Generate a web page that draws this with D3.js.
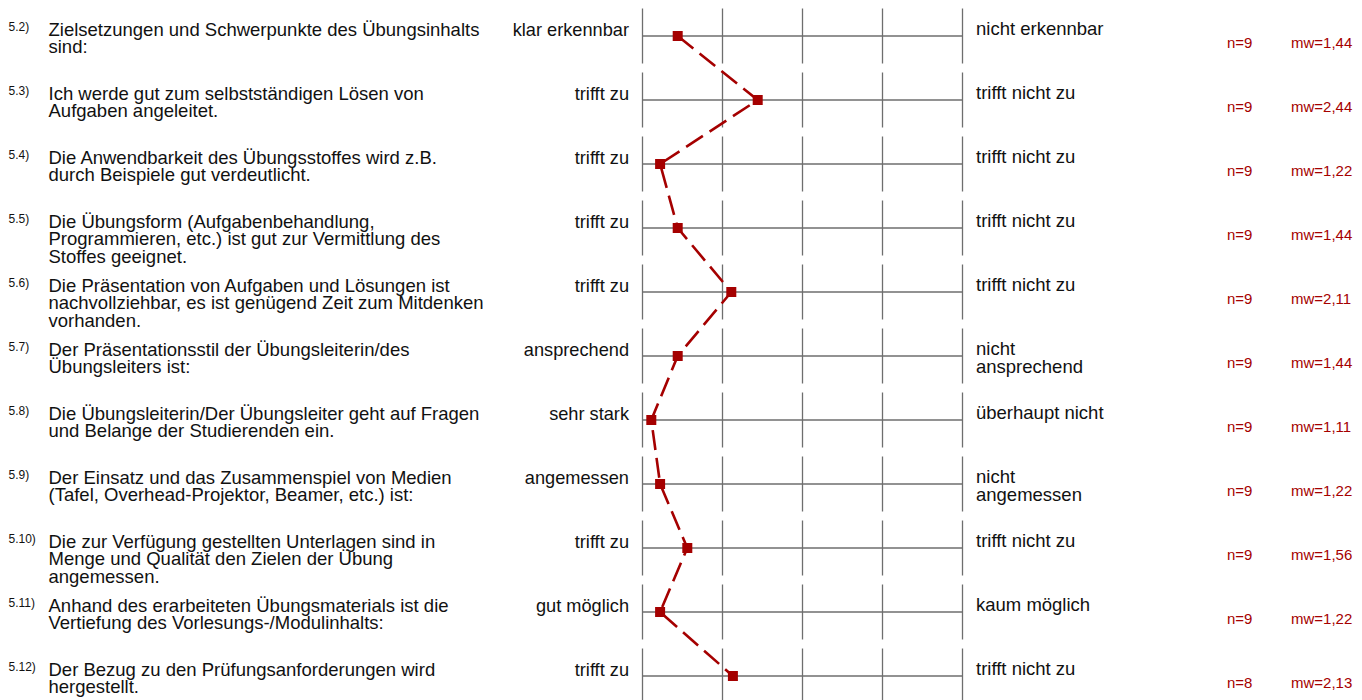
<!DOCTYPE html>
<html>
<head>
<meta charset="utf-8">
<script src="https://cdn.jsdelivr.net/npm/d3@7"></script>
<style>
  body { margin: 0; background: #fff; }
  text { font-family: 'Liberation Sans', Arial, sans-serif; }
</style>
</head>
<body>
<div id="chart"></div>
<script>
const ids = ['5.2)', '5.3)', '5.4)', '5.5)', '5.6)', '5.7)', '5.8)', '5.9)', '5.10)', '5.11)', '5.12)'];

const questions = [
  ['Zielsetzungen und Schwerpunkte des Übungsinhalts', 'sind:'],
  ['Ich werde gut zum selbstständigen Lösen von', 'Aufgaben angeleitet.'],
  ['Die Anwendbarkeit des Übungsstoffes wird z.B.', 'durch Beispiele gut verdeutlicht.'],
  ['Die Übungsform (Aufgabenbehandlung,', 'Programmieren, etc.) ist gut zur Vermittlung des', 'Stoffes geeignet.'],
  ['Die Präsentation von Aufgaben und Lösungen ist', 'nachvollziehbar, es ist genügend Zeit zum Mitdenken', 'vorhanden.'],
  ['Der Präsentationsstil der Übungsleiterin/des', 'Übungsleiters ist:'],
  ['Die Übungsleiterin/Der Übungsleiter geht auf Fragen', 'und Belange der Studierenden ein.'],
  ['Der Einsatz und das Zusammenspiel von Medien', '(Tafel, Overhead-Projektor, Beamer, etc.) ist:'],
  ['Die zur Verfügung gestellten Unterlagen sind in', 'Menge und Qualität den Zielen der Übung', 'angemessen.'],
  ['Anhand des erarbeiteten Übungsmaterials ist die', 'Vertiefung des Vorlesungs-/Modulinhalts:'],
  ['Der Bezug zu den Prüfungsanforderungen wird', 'hergestellt.']
];

const leftLabels = ['klar erkennbar', 'trifft zu', 'trifft zu', 'trifft zu', 'trifft zu', 'ansprechend',
  'sehr stark', 'angemessen', 'trifft zu', 'gut möglich', 'trifft zu'];

const rightLabels = [['nicht erkennbar'], ['trifft nicht zu'], ['trifft nicht zu'], ['trifft nicht zu'],
  ['trifft nicht zu'], ['nicht', 'ansprechend'], ['überhaupt nicht'], ['nicht', 'angemessen'],
  ['trifft nicht zu'], ['kaum möglich'], ['trifft nicht zu']];

const nValues = [9, 9, 9, 9, 9, 9, 9, 9, 9, 9, 8];
const mwValues = [1.44, 2.44, 1.22, 1.44, 2.11, 1.44, 1.11, 1.22, 1.56, 1.22, 2.13];

const scaleTicks = [1, 2, 3, 4, 5];

const width = 1362;
const height = 700;
const red = '#a50000';
const lineHeight = 17.6;

const xScale = d3.scaleLinear().domain([1, 5]).range([642.5, 962.5]);
const yScale = d3.scalePoint().domain(ids).range([36, 676]);

const svg = d3
  .select('#chart')
  .append('svg')
  .attr('width', width)
  .attr('height', height);

const rows = svg
  .selectAll('.row')
  .data(ids)
  .enter()
  .append('g')
  .attr('class', 'row')
  .attr('transform', (d) => `translate(0,${yScale(d)})`);

// scale grid per question
rows
  .selectAll('.tick')
  .data(scaleTicks)
  .enter()
  .append('line')
  .attr('x1', (d) => xScale(d))
  .attr('x2', (d) => xScale(d))
  .attr('y1', -27.5)
  .attr('y2', 27.5)
  .attr('stroke', '#6e6e6e')
  .attr('stroke-width', 1.3);

rows
  .append('line')
  .attr('x1', xScale(1))
  .attr('x2', xScale(5))
  .attr('y1', 0)
  .attr('y2', 0)
  .attr('stroke', '#6e6e6e')
  .attr('stroke-width', 1.3);

// number + question
rows
  .append('text')
  .attr('x', 8.5)
  .attr('y', -5.5)
  .attr('font-size', 12)
  .attr('fill', '#111')
  .text((d) => d);

rows
  .append('text')
  .attr('font-size', 18.5)
  .attr('fill', '#111')
  .selectAll('tspan')
  .data((d, i) => questions[i])
  .enter()
  .append('tspan')
  .attr('x', 48.5)
  .attr('y', (d, i) => -0.5 + i * lineHeight)
  .text((d) => d);

rows
  .append('text')
  .attr('x', 629)
  .attr('y', 0)
  .attr('text-anchor', 'end')
  .attr('font-size', 18.2)
  .attr('fill', '#111')
  .text((d, i) => leftLabels[i]);

rows
  .append('text')
  .attr('font-size', 18.5)
  .attr('fill', '#111')
  .selectAll('tspan')
  .data((d, i) => rightLabels[i])
  .enter()
  .append('tspan')
  .attr('x', 976)
  .attr('y', (d, i) => -1 + i * 18)
  .text((d) => d);

rows
  .append('text')
  .attr('x', 1227)
  .attr('y', 12)
  .attr('font-size', 15)
  .attr('fill', red)
  .text((d, i) => 'n=' + nValues[i]);

rows
  .append('text')
  .attr('x', 1291)
  .attr('y', 12)
  .attr('font-size', 15)
  .attr('fill', red)
  .text((d, i) => 'mw=' + mwValues[i].toFixed(2).replace('.', ','));

// profile line through the means
const line = d3
  .line()
  .x((d) => xScale(d))
  .y((d, i) => yScale(ids[i]));

svg
  .append('path')
  .datum(mwValues)
  .attr('d', line)
  .attr('fill', 'none')
  .attr('stroke', red)
  .attr('stroke-width', 2.6)
  .attr('stroke-dasharray', '20,8');

svg
  .selectAll('.marker')
  .data(mwValues)
  .enter()
  .append('rect')
  .attr('class', 'marker')
  .attr('x', (d) => xScale(d) - 5)
  .attr('y', (d, i) => yScale(ids[i]) - 5)
  .attr('width', 10)
  .attr('height', 10)
  .attr('fill', red);
</script>
</body>
</html>
